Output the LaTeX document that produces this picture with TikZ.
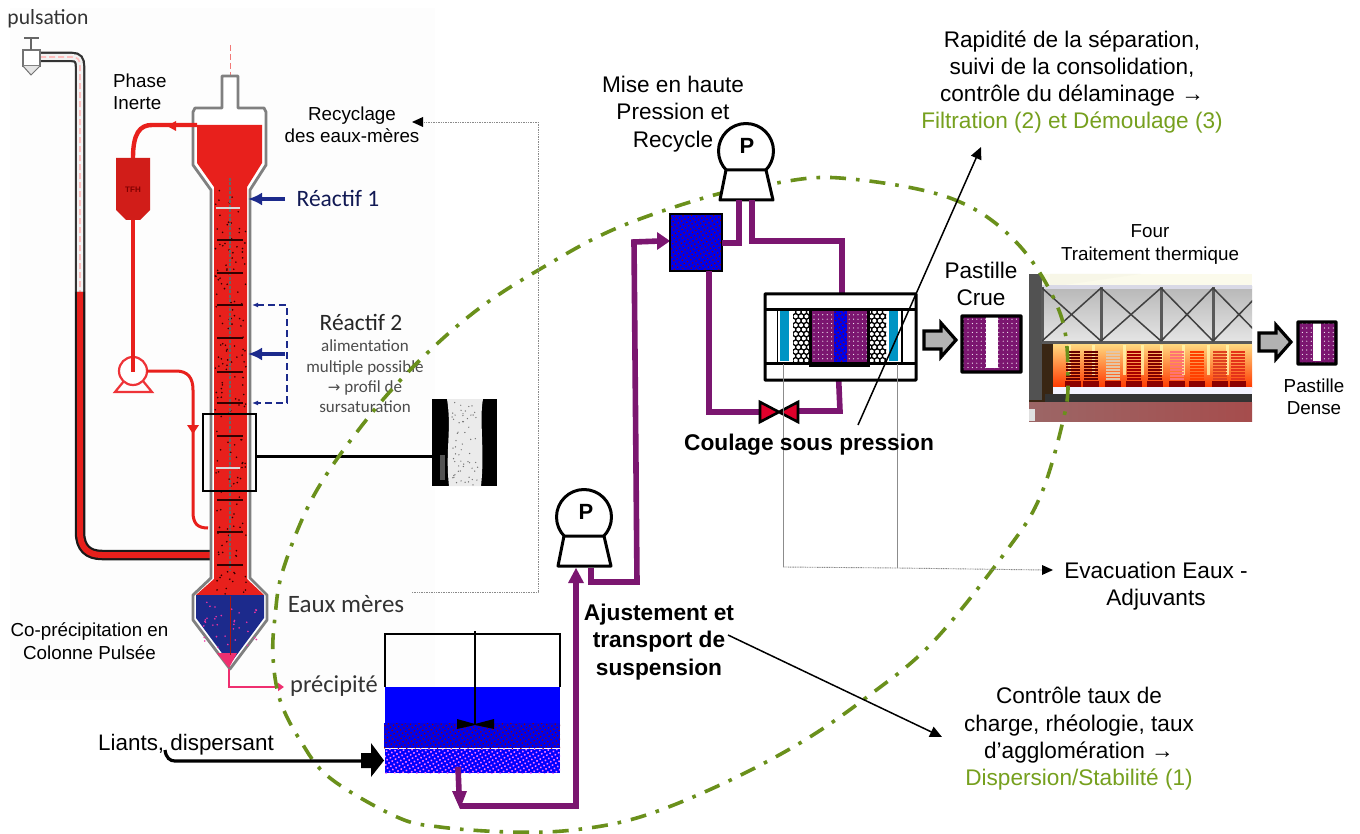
\documentclass[tikz,border=0pt]{standalone}
\usepackage{fontspec}
\setmainfont{Liberation Sans}
\newfontfamily\calib{Carlito}
\newfontfamily\dejav{DejaVu Sans}
\usetikzlibrary{arrows.meta,patterns.meta,calc}
\definecolor{purp}{HTML}{7B1670}
\definecolor{grn}{HTML}{76A01E}
\definecolor{colred}{HTML}{E8201C}
\definecolor{pumpred}{HTML}{EE3338}
\definecolor{navy}{HTML}{1C2A8C}
\definecolor{pinkl}{HTML}{EF2F70}
\definecolor{teal1}{HTML}{0094C4}
\definecolor{valvered}{HTML}{E0002B}
\definecolor{grayline}{HTML}{8A8A8A}
\tikzset{
 x=1pt,y=-1pt,
 tx/.style={inner sep=0,align=center,text=black},
 tA/.style={tx,font=\fontsize{22.6}{27.3}\selectfont},
 tB/.style={tx,font=\fontsize{18.8}{22.4}\selectfont},
 tC/.style={tx,font=\fontsize{22.7}{27.8}\selectfont\bfseries},
 tD/.style={tx,text=black!80,font=\calib\fontsize{#1}{26}\selectfont},
 pipe/.style={draw=purp,line width=5.6pt,line join=miter},
 thinar/.style={draw=black,line width=1.5pt,-{Triangle[length=12pt,width=11pt]}},
 dotar/.style={draw=grayline,line width=.9pt,dash pattern=on 1pt off .7pt},
 redp/.style={draw=colred,line width=4.4pt},
 bluedots/.style={preaction={fill=blue!92!black},pattern={Dots[distance=3.8pt,radius=.85pt,angle=30]},pattern color=#1},
 pinkdots/.style={preaction={fill=blue},pattern={Dots[distance=3.8pt,radius=1.1pt,angle=30]},pattern color=magenta!55!white},
 purpdots/.style={preaction={fill=purp},pattern={Dots[distance=4.4pt,radius=.6pt]},pattern color=white},
 pumpshape/.style={draw=black,line width=3pt,fill=white,line join=round},
 blockar/.style={draw=black,line width=3.2pt,fill=black!30,line join=miter},
 tank/.style={draw=black,line width=2pt},
 pastille/.style={draw=black,line width=3.4pt,rounded corners=.5pt},
}
\newcommand{\ringcol}[2]{
 \foreach \i in {0,...,11}{\foreach \j in {0,...,3}{
  \pgfmathsetmacro\rx{#1+5.4*\j+2.7*mod(\i,2)}
  \pgfmathsetmacro\ry{#2+4.4*\i}
  \draw[black,line width=1pt] (\rx,\ry) circle (2.8);
 }}
}
\newcommand{\mypump}[2]{
 \draw[pumpshape] (#1,#2) circle (27.5);
 \draw[pumpshape] (#1-20,#2+19) -- (#1+20,#2+19) -- (#1+27,#2+49) -- (#1-26,#2+49) -- cycle;
}
\begin{document}
\begin{tikzpicture}
\useasboundingbox (0,0) rectangle (1360,834);
\fill[white] (0,0) rectangle (1360,834);
\fill[black!.8!white] (10,8) rectangle (435,700);

% ---- pulsation tube
\coordinate (tubeA) at (40,57);
\coordinate (tubeB) at (80,292);
\coordinate (tubeC) at (211,555);
\draw[black!80,line width=10.5pt,line cap=butt] (tubeA) -- (72,57) .. controls (78,57) and (80,60) .. (80,66) -- (tubeB);
\draw[black!5,line width=6pt] (tubeA) -- (72,57) .. controls (78,57) and (80,60) .. (80,66) -- (tubeB);
\draw[pink,line width=1.6pt,dash pattern=on 6pt off 3pt] (tubeA) -- (72,57) .. controls (78,57) and (80,60) .. (80,66) -- (tubeB);
\draw[black!90,line width=10.5pt] (tubeB) -- (80,532) .. controls (80,548) and (88,555) .. (102,555) -- (tubeC);
\draw[colred,line width=6pt] (tubeB) -- (80,532) .. controls (80,548) and (88,555) .. (102,555) -- (tubeC);
% valve
\draw[black!55,line width=1.5pt,fill=white] (23,50) rectangle (40,66);
\draw[black!55,line width=1pt,fill=black!10] (23,66) -- (31,75) -- (40,66);
\draw[black!60,line width=2pt] (31,38) -- (31,50);
\draw[black!60,line width=2.5pt] (24,38) -- (39,38);
\node[tD=21.6] (lblpuls) at (48,19) {pulsation};

% ---- column
\coordinate (colTop) at (230,45);
\draw[colred!60!white,line width=1pt,dash pattern=on 6pt off 3pt] (colTop) -- (230,125);
\path[draw=black!50,line width=2.8pt,fill=white,line join=round]
 (222,76) -- (238,76) -- (238,108) -- (264,108) -- (266,112) -- (266,165) -- (250,190) -- (250,578)
 -- (267,595) -- (267,620) -- (230,669) -- (193,620) -- (193,595) -- (211,578) -- (211,190) -- (193,165) -- (193,112) -- (195,108) -- (222,108) -- cycle;
\fill[colred] (197,125) -- (262,125) -- (262,163) -- (247,187) -- (247,579) -- (264,595) -- (196,595) -- (214,579) -- (214,187) -- (197,163) -- cycle;
\fill[navy] (196,595) -- (264,595) -- (264,618) -- (230,664) -- (196,618) -- cycle;
\fill[pinkl] (217,653) -- (237,653) -- (229,668) -- cycle;
\begin{scope}
\pgfmathsetseed{42}
\clip (214,178) rectangle (247,596);
\foreach \i in {1,...,170}{
 \pgfmathsetmacro\xx{215+31*rnd}
 \pgfmathsetmacro\yy{190+405*rnd}
 \fill[black!80!red] (\xx,\yy) circle (.9);
}
\end{scope}
\foreach \i in {1,...,35}{
 \pgfmathsetmacro\xx{201+58*rnd}
 \pgfmathsetmacro\yy{598+50*rnd}
 \fill[magenta!80!white] (\xx,\yy) circle (.9);
}
\draw[black!60,line width=1.3pt,dash pattern=on 3pt off 1.5pt] (230,178) -- (230,570);
\draw[colred!70!black,line width=.8pt] (230,596) -- (230,655);
\foreach \yy in {240,273,305,338,372,403,436,500,532,565}{
 \draw[black!80!red,line width=2pt] (217,\yy) -- (243,\yy);
}
\foreach \yy in {208,468}{
 \draw[black!15,line width=2.2pt] (216,\yy) -- (240,\yy);
}

% ---- phase inerte loop
\coordinate (ovf) at (197,125);
\coordinate (tfhTop) at (133,158);
\draw[redp] (ovf) -- (152,125) .. controls (140,125) and (133,133) .. (tfhTop);
\fill[colred] (167,126) -- (176,121) -- (176,131) -- cycle;
\path[fill=colred!90!black] (116,158) -- (150,158) -- (150,210) -- (140,220) -- (126,220) -- (116,210) -- cycle;
\node[font=\bfseries\fontsize{8}{8}\selectfont,text=red!50!black,inner sep=0] (tfhlbl) at (133,190) {TFH};
\draw[redp] (133,220) -- (133,372);
\coordinate (pumpR) at (147,371);
\coordinate (colIn) at (208,528);
\draw[pumpred,line width=2.2pt,fill=white] (133,371) circle (14);
\draw[pumpred,line width=2.2pt] (124,381) -- (115,392) -- (152,392) -- (143,381);
\draw[redp] (133,350) -- (133,372);
\draw[draw=colred,line width=3pt] (pumpR) -- (176,371) .. controls (188,371) and (193,378) .. (193,390) -- (193,512) .. controls (193,524) and (198,528) .. (colIn);
\fill[colred] (187,425) -- (199,425) -- (193,434) -- cycle;

% ---- zoom box and crystal picture
\node[draw=black,line width=2.2pt,minimum width=53pt,minimum height=77pt,inner sep=0] (zbox) at (229.5,452.5) {};
\node[fill=black,minimum width=65pt,minimum height=87pt,inner sep=0] (crystal) at (464.5,442.5) {};
\begin{scope}
\pgfmathsetseed{7}
\fill[black!8] (447,399) .. controls (452,430) and (445,450) .. (449,486) -- (481,486) .. controls (485,450) and (479,420) .. (483,399) -- cycle;
\fill[black!35,opacity=.5] (440,455) rectangle (445,480);
\foreach \i in {1,...,60}{
 \pgfmathsetmacro\xx{452+26*rnd}
 \pgfmathsetmacro\yy{401+84*rnd}
 \fill[black!55] (\xx,\yy) circle (.7);
}
\end{scope}
\coordinate (zlink) at (256,456);
\draw[black,line width=3pt] (zlink) -- (zlink -| crystal.west);

% ---- reagents
\coordinate (r1s) at (285,199);
\coordinate (r1e) at (248,199);
\coordinate (r2s) at (285,354);
\coordinate (r2e) at (248,354);
\draw[navy,line width=4pt,-{Latex[length=14pt,width=13pt]}] (r1s) -- (r1e);
\draw[navy,line width=4pt,-{Latex[length=14pt,width=13pt]}] (r2s) -- (r2e);
\coordinate (r3a) at (252,305);
\coordinate (r3b) at (252,403);
\draw[navy,line width=1.6pt,dash pattern=on 7pt off 4pt,{Latex[length=6pt,width=5pt]}-{Latex[length=6pt,width=5pt]}] (r3a) -- (287,305) -- (287,403) -- (r3b);
\node[tD=23.5,text=navy!60!black] (lblr1) at (338,198) {Réactif 1};
\node[tD=23.5,text=black!85] (lblr2) at (361,322) {Réactif 2};
\node[tx,text=black!70,font=\calib\fontsize{17}{20.4}\selectfont] (lblmult) at (365,376.5) {alimentation\\multiple possible\\{\dejav\fontsize{15}{20.4}\selectfont →} profil de\\sursaturation};
\node[tD=25] (lbleaux) at (346,604) {Eaux mères};
\node[tD=24.4] (lblprec) at (334,686) {précipité};
\coordinate (cone) at (229,669);
\coordinate (precE) at (284,687);
\draw[draw=pinkl,line width=2.6pt,-{Triangle[length=6pt,width=8pt]}] (cone) -- (229,687) -- (precE);

\node[tB,align=left,anchor=west] (lblphase) at (113,92) {Phase\\Inerte};
\node[tB] (lblrecy) at (352,125) {Recyclage\\des eaux-mères};
\node[tB] (lblcop) at (89.5,641) {Co-précipitation en\\Colonne Pulsée};

% ---- furnace picture
\node[minimum width=223pt,minimum height=147pt,inner sep=0,fill=black!70!brown] (four) at (1140.5,347.5) {};
\fill[black!22!yellow!8!white] (1042,274) rectangle (1252,287);
\fill[black!35!yellow!10!white] (1050,274) -- (1140,274) -- (1050,287) -- cycle;
\fill[black!68] (1029,274) rectangle (1042,400);
\shade[top color=black!28,bottom color=black!10] (1042,287) rectangle (1252,342);
\fill[black!65!blue!15!white] (1042,285) rectangle (1252,289);
\fill[black!65] (1042,341) rectangle (1252,344);
\foreach \x in {1042,1101,1161,1213}{\fill[black!65] (\x-1.5,287) rectangle (\x+1.5,342);}
\begin{scope}
\clip (1042,287) rectangle (1252,342);
\foreach \a/\b in {1042/1101,1101/1161,1161/1213,1213/1265}{
 \draw[black!75,line width=1.5pt] (\a,288) -- (\b,341) (\a,341) -- (\b,288);
}
\end{scope}
\shade[top color=yellow!40!orange!50!white,middle color=orange!70!red!65!white,bottom color=red!55!orange] (1053,344) rectangle (1252,387);
\foreach \x in {1068,1092,1123,1141,1160,1182,1207,1226}{
 \fill[yellow!30!white,opacity=.75] (\x,345) rectangle (\x+3,375);
}
\foreach \x/\c in {1066/black!60!red,1084/black!60!red,1106/white!55!brown,1127/black!35!red,1148/black!50!red,1170/white!45!red,1190/red!50!orange,1213/red!50!brown,1231/red!60!brown}{
 \foreach \yy in {352,355,...,380}{\draw[\c,line width=1.2pt] (\x,\yy) -- (\x+14,\yy);}
 \fill[red!55!black] (\x-1,381) rectangle (\x+15,387);
}
\fill[black!10!blue!5!white] (1053,387) rectangle (1252,394);
\fill[black!80] (1045,394) rectangle (1252,402);
\shade[left color=red!35!black!60!white,right color=red!50!black!70!white] (1029,402) rectangle (1252,421);
\fill[black!12] (1029,409) rectangle (1035,421);
\node[tB] (lblfour) at (1150,244.5) {Four\\Traitement thermique};

% ---- dash-dot envelope
\draw[grn!90!black,line width=3.6pt,dash pattern=on 16pt off 10pt on 3.6pt off 10pt]
 plot[smooth cycle,tension=.6] coordinates {(840,178)(950,198)(1017,243)(1060,313)(1068,380)(1062,425)(1040,497)(1007,550)(933,642)(867,697)(800,743)(720,785)(640,817)(573,830)(510,832)(440,827)(397,817)(330,778)(300,740)(280,700)(273,657)(275,617)(283,570)(313,497)(360,428)(413,367)(477,310)(547,265)(617,228)(707,197)(770,184)};

% ---- recycling dotted connector
\coordinate (recA) at (412,592);
\coordinate (recB) at (538,592);
\coordinate (recC) at (538,122);
\coordinate (recD) at (412,122);
\draw[dotar] (recA) -- (recB) -- (recC) -- (421,122);
\fill[black] (recD) -- (423,117) -- (423,127) -- cycle;

% ---- slurry tank
\fill[blue] (385,687) rectangle (560,723);
\path[bluedots=red!60!black] (384,723) rectangle (560,748);
\path[pinkdots] (385,749) rectangle (560,773);
\draw[tank] (385,687) -- (385,634) -- (560,634) -- (560,687);
\node[inner sep=0,minimum width=175pt,minimum height=86pt] (tankn) at (472.5,730) {};
\draw[black,line width=2pt] (475,631) -- (475,724);
\fill[black] (457,719) -- (475,724) -- (494,719) -- (494,729) -- (475,725) -- (457,729) -- cycle;
\coordinate (lianA) at (165,750);
\coordinate (lianB) at (362,761);
\draw[black,line width=3.2pt] (lianA) .. controls (166,758) and (170,761) .. (175,761) -- (lianB);
\fill[black] (361,753) -- (371,753) -- (371,743) -- (384,760.5) -- (371,777) -- (371,768) -- (361,768) -- cycle;
\node[tx,font=\fontsize{22.4}{24}\selectfont] (lblliants) at (186,745) {Liants, dispersant};

% ---- pumps
\mypump{584}{517}
\node[tx,font=\bfseries\fontsize{22}{22}\selectfont] (p1) at (586,512) {P};
\mypump{746}{151}
\node[tx,font=\bfseries\fontsize{22}{22}\selectfont] (p2) at (747,146) {P};

% ---- purple pipes
\coordinate (tkOut) at (458,767);
\coordinate (p1in) at (576,568);
\coordinate (p1out) at (591,568);
\coordinate (bxIn) at (670,241);
\draw[pipe] (tkOut) -- (459,792);
\fill[purp] (452,791) -- (467,791) -- (460,809) -- cycle;
\draw[pipe] (460,806) -- (576,806) -- (576,580);
\fill[purp] (568,583) -- (584,583) -- (p1in) -- cycle;
\draw[pipe] (p1out) -- (591,582) -- (637,582) -- (634,242) -- (660,241);
\fill[purp] (657,232) -- (bxIn) -- (657,250) -- cycle;
\node[inner sep=0,minimum width=52pt,minimum height=57pt] (bx) at (696,242.5) {};
\path[bluedots=red!60!black] (670,214) rectangle (722,271);
\draw[black,line width=2.4pt] (670,214) rectangle (722,271);
\draw[pipe] (722,243) -- (739,243) -- (739,200);
\draw[pipe] (752,200) -- (752,241) -- (842,241) -- (842,310);
\draw[pipe] (709,271) -- (709,412) -- (760,412);
\draw[pipe] (798,411) -- (840,411) -- (838,364);
\node[inner sep=0,minimum width=40pt,minimum height=20pt] (valve) at (779,412) {};
\draw[draw=black,line width=2.6pt,fill=valvered,line join=miter] (760,402) -- (798,422) -- (798,402) -- (760,422) -- cycle;

% ---- filter press
\node[inner sep=0,minimum width=152pt,minimum height=87pt] (press) at (840,336.5) {};
\fill[white] (764,293) rectangle (916,380);
\fill[teal1] (780,311) rectangle (789,361);
\fill[teal1] (889,311) rectangle (898,361);
\begin{scope}
\clip (793,311) rectangle (810,361);
\ringcol{793}{312}
\end{scope}
\begin{scope}
\clip (869,311) rectangle (886,361);
\ringcol{869}{312}
\end{scope}
\path[purpdots] (812,311) rectangle (867,365);
\path[bluedots=red!60!black] (834,311) rectangle (847,362);
\draw[black,line width=3pt] (810,311) -- (810,365.5) -- (868,365.5) -- (868,311);
\draw[black,line width=3pt,rounded corners=.5pt] (765,294) rectangle (916,380);
\draw[black,line width=3pt] (765,309.5) -- (916,309.5);
\draw[black,line width=3pt] (765,363.5) -- (916,363.5);
\draw[black,line width=1.6pt] (777.5,310) -- (777.5,363) (902,310) -- (902,363);

% ---- pastilles and block arrows
\node[inner sep=0,minimum width=59pt,minimum height=56pt] (crue) at (991.5,344) {};
\path[purpdots] (962,316) rectangle (1021,372);
\fill[white] (986,317) rectangle (998,368);
\draw[pastille] (962,316) rectangle (1021,372);
\node[inner sep=0,minimum width=38pt,minimum height=42pt] (dense) at (1317,343) {};
\path[purpdots] (1298,322) rectangle (1336,364);
\fill[white] (1313,323) rectangle (1321,361);
\draw[pastille] (1298,322) rectangle (1336,364);
\draw[blockar] (924,331) -- (941,331) -- (941,323) -- (956,340) -- (941,357) -- (941,349) -- (924,349) -- cycle;
\draw[blockar] (1259,333) -- (1276,333) -- (1276,325) -- (1291,342) -- (1276,359) -- (1276,351) -- (1259,351) -- cycle;

% ---- evacuation lines
\coordinate (evA) at (783,364);
\coordinate (evB) at (897,364);
\coordinate (evJ) at (783,567);
\coordinate (evK) at (897,568);
\coordinate (evE) at (1053,570);
\draw[black!45,line width=.9pt] (evA) -- (evJ);
\draw[black!45,line width=.9pt] (evB) -- (evK);
\draw[dotar] (evJ) -- (evK) -- (1044,570);
\fill[black] (evE) -- (1042,565) -- (1042,575) -- cycle;

% ---- labels
\node[tA] (lblrap) at (1072,82) {Rapidité de la séparation,\\suivi de la consolidation,\\contrôle du délaminage →\\\textcolor{grn}{Filtration (2) et Démoulage (3)}};
\node[tA] (lblmise) at (673,114) {Mise en haute\\Pression et\\Recycle};
\node[tC] (lblcoul) at (809,445) {Coulage sous pression};
\node[tC] (lblaj) at (659,642) {Ajustement et\\transport de\\suspension};
\node[tA] (lblpast) at (981,284) {Pastille\\Crue};
\node[tB] (lbldense) at (1314,397) {Pastille\\Dense};
\node[tA] (lblevac) at (1156,586.5) {Evacuation Eaux -\\Adjuvants};
\node[tA] (lblctrl) at (1079,739) {Contrôle taux de\\charge, rhéologie, taux\\d’agglomération →\\\textcolor{grn}{Dispersion/Stabilité (1)}};

% ---- black annotation arrows
\coordinate (a1s) at (858,425);
\coordinate (a1e) at (981,147);
\coordinate (a2s) at (728,635);
\coordinate (a2e) at (942,737);
\draw[thinar] (a1s) -- (a1e);
\draw[thinar] (a2s) -- (a2e);
\end{tikzpicture}
\end{document}
